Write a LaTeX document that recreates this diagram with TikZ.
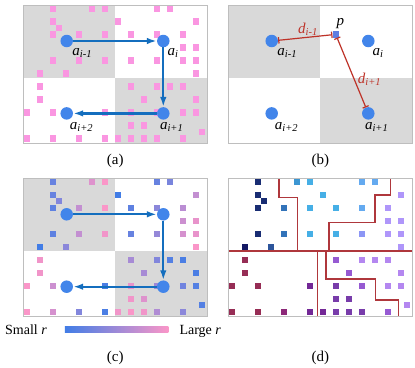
\documentclass[tikz,border=0pt]{standalone}
\usepackage{fontspec}
\setmainfont{Liberation Serif}
\usetikzlibrary{arrows.meta}
\definecolor{cellgrey}{RGB}{217,217,217}
\definecolor{framegrey}{RGB}{190,190,190}
\definecolor{anchorblue}{RGB}{66,133,234}
\definecolor{pathblue}{RGB}{20,110,190}
\definecolor{distred}{RGB}{190,50,40}
\definecolor{borderred}{RGB}{175,55,60}
\definecolor{smallr}{RGB}{66,125,230}
\definecolor{larger}{RGB}{250,150,200}
\definecolor{midr}{RGB}{160,128,215}
\definecolor{ptpink}{RGB}{250,150,225}
\definecolor{ptblue}{RGB}{95,125,225}
% region colours of (d)
\definecolor{rnavy}{RGB}{25,45,115}
\definecolor{rdeep}{RGB}{20,25,100}
\definecolor{rsteel}{RGB}{45,85,155}
\definecolor{rmid}{RGB}{50,115,185}
\definecolor{rsea}{RGB}{60,150,210}
\definecolor{rsky}{RGB}{70,175,230}
\definecolor{rlight}{RGB}{100,170,240}
\definecolor{rperi}{RGB}{140,150,245}
\definecolor{rlav}{RGB}{175,150,250}
\definecolor{rmaroon}{RGB}{150,45,85}
\definecolor{rplum}{RGB}{140,40,120}
\definecolor{rpurple}{RGB}{115,40,150}
\definecolor{rviolet}{RGB}{120,60,170}
\definecolor{rorchid}{RGB}{150,90,210}
\definecolor{rlilac}{RGB}{180,135,240}

\newcommand{\ilab}[2]{\textit{#1}\textsubscript{\textit{#2}}}
% cells: column/row/pink share in (c)/colour in (d)
\newcommand{\cells}{2/0/20/rnavy, 5/0/85/rsea, 6/0/100/rsky, 10/0/20/rlight, 11/0/30/rlight,
  2/1/20/rnavy, 7/1/0/rsky, 13/1/70/rlav, 2.5/1.5/35/rnavy,
  2/2/15/rnavy, 4/2/70/rmid, 6/2/100/rsky, 8/2/15/rsky, 10/2/40/rlight, 12/2/65/rlav,
  12/3/75/rlav, 13/3/90/rlav,
  2/4/15/rnavy, 4/4/70/rmid, 6/4/95/rsky, 8/4/20/rsky, 10/4/45/rperi, 12/4/80/rlav, 13/4/90/rlav,
  1/5/0/rdeep, 3/5/40/rsteel, 13/5/100/rlav,
  1/6/95/rmaroon, 8/6/55/rorchid, 10/6/35/rlilac, 11/6/10/rlilac, 12/6/5/rlilac,
  1/7/95/rmaroon, 9/7/55/rorchid, 13/7/5/rlilac,
  0/8/100/rmaroon, 2/8/75/rmaroon, 6/8/5/rpurple, 8/8/90/rviolet, 10/8/50/rorchid, 12/8/25/rlilac, 13/8/10/rlilac,
  8/9/95/rviolet, 9/9/85/rviolet, 13.5/9.5/10/rlilac,
  0/10/100/rmaroon, 2/10/80/rmaroon, 4/10/35/rplum, 6/10/5/rpurple, 7/10/95/rpurple,
  8/10/100/rviolet, 9/10/95/rviolet, 10/10/60/rviolet, 12/10/40/rorchid}
\newcommand{\quadrants}{%
  \fill[cellgrey] (0,0) rectangle (91.7,72.5);
  \fill[cellgrey] (91.7,72.5) rectangle (184,138);}

\tikzset{
  refpt/.style={circle, fill=anchorblue, inner sep=0pt, minimum size=12.5pt},
  walk/.style={pathblue, line width=2.2pt, -{Latex[length=10pt,width=6.5pt]}},
  dist/.style={distred, line width=1.2pt, {Bar[width=6.5pt]}-{Bar[width=6.5pt]}},
  lab/.style={font=\fontsize{15}{18}\selectfont, inner sep=0pt},
  legend/.style={font=\fontsize{14}{17}\selectfont, inner sep=0pt},
  panelframe/.style={draw=framegrey, line width=0.8pt},
  region/.style={borderred, line width=1.5pt},
}

\begin{document}
\begin{tikzpicture}[x=1pt, y=-1pt]
    \useasboundingbox[fill=white] (0,0) rectangle (415,367);

    % (a) visiting order
    \begin{scope}[shift={(23.3,5)}]
        \quadrants
        \foreach \col/\row/\shr/\dcol in \cells
            \fill[ptpink] ({0.3+13*\col},{0.3+13*\row}) rectangle ++(6.2,6.2);
        \draw[panelframe] (0,0) rectangle (184,138);
        \node[refpt] (am) at (43.4,36) {};
        \node[refpt] (ai) at (140,36) {};
        \node[refpt] (ap) at (140,108.4) {};
        \node[refpt] (aq) at (43.4,108.4) {};
        \draw[walk] (am) -- (ai);
        \draw[walk] (ai) -- (ap);
        \draw[walk] (ap) -- (aq);
        \node[lab, anchor=base west] (amlab) at (48.9,50.5) {\ilab{a}{i-1}};
        \node[lab, anchor=base west] (ailab) at (144,50.5) {\ilab{a}{i}};
        \node[lab, anchor=base west] (aplab) at (136.5,124.4) {\ilab{a}{i+1}};
        \node[lab, anchor=base west] (aqlab) at (46.4,124.4) {\ilab{a}{i+2}};
    \end{scope}

    % (b) distances of a point
    \begin{scope}[shift={(228.3,5)}]
        \quadrants
        \draw[panelframe] (0,0) rectangle (184,138);
        \node[refpt] (bm) at (43.4,36) {};
        \node[refpt] (bi) at (140,36) {};
        \node[refpt] (bp) at (140,108.4) {};
        \node[refpt] (bq) at (43.4,108.4) {};
        \node[fill=ptblue, minimum size=6.2pt, inner sep=0pt] (p) at (107.4,29.4) {};
        \node[lab, anchor=base] (plab) at (112,20) {\textit{p}};
        \draw[dist] (bm) -- (p)
            node[lab, distred, above=1.5pt, pos=0.55] (dm) {\ilab{d}{i-1}};
        \draw[dist] (p) -- (bp)
            node[lab, distred, right=3pt, pos=0.6] (dp) {\ilab{d}{i+1}};
        \node[lab, anchor=base west] (bmlab) at (48.9,50.5) {\ilab{a}{i-1}};
        \node[lab, anchor=base west] (bilab) at (144,50.5) {\ilab{a}{i}};
        \node[lab, anchor=base west] (bplab) at (136.5,124.4) {\ilab{a}{i+1}};
        \node[lab, anchor=base west] (bqlab) at (46.4,124.4) {\ilab{a}{i+2}};
    \end{scope}

    % (c) points shaded by r
    \begin{scope}[shift={(23.3,178.3)}]
        \quadrants
        \foreach \col/\row/\shr/\dcol in \cells
            \fill[larger!\shr!smallr] ({0.3+13*\col},{0.3+13*\row}) rectangle ++(6.2,6.2);
        \draw[panelframe] (0,0) rectangle (184,138);
        \node[refpt] (cm) at (43.4,36) {};
        \node[refpt] (ci) at (140,36) {};
        \node[refpt] (cp) at (140,108.4) {};
        \node[refpt] (cq) at (43.4,108.4) {};
        \draw[walk] (cm) -- (ci);
        \draw[walk] (ci) -- (cp);
        \draw[walk] (cp) -- (cq);
    \end{scope}

    % (d) regions
    \begin{scope}[shift={(228.3,178.3)}]
        \foreach \col/\row/\shr/\dcol in \cells
            \fill[\dcol] ({0.3+13*\col},{0.3+13*\row}) rectangle ++(6.2,6.2);
        \draw[region] (0,72.5) -- (184,72.5);
        \draw[region] (50.7,0) |- (69.4,19.4) -- (69.4,72.5);
        \draw[region] (100.7,72.5) |- (146.5,44.4) |- (162.4,16.7) -- (162.4,0);
        \draw[region] (89.4,72.5) -- (89.4,138);
        \draw[region] (97.9,72.5) |- (147,100.8) |- (170,121.7) -- (170,138);
        \draw[panelframe] (0,0) rectangle (184,138);
    \end{scope}

    % colour legend
    \node[minimum width=103.3pt, minimum height=5.6pt, inner sep=0pt,
        left color=smallr, middle color=midr, right color=larger] (rbar) at (116.6,329.5) {};
    \node[legend, anchor=base west] (small) at (5,334.3) {Small \textit{r}};
    \node[legend, anchor=base west] (large) at (179.3,334.3) {Large \textit{r}};

    % captions
    \node[lab, anchor=base] (capa) at (115.3,164) {(a)};
    \node[lab, anchor=base] (capb) at (320.3,164) {(b)};
    \node[lab, anchor=base] (capc) at (115.3,361) {(c)};
    \node[lab, anchor=base] (capd) at (320.3,361) {(d)};
\end{tikzpicture}
\end{document}
